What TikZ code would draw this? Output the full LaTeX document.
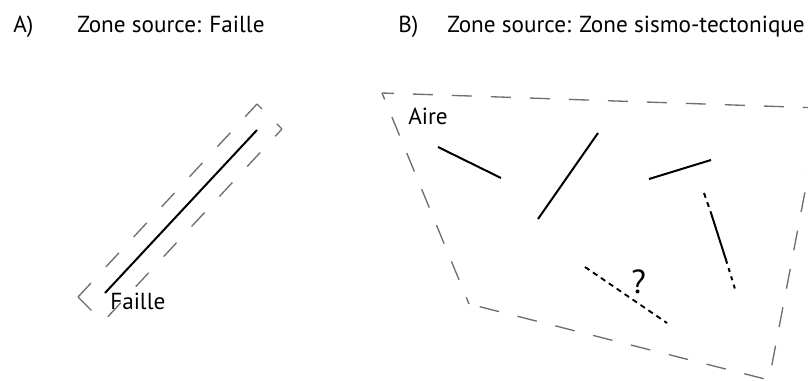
\documentclass[tikz,border=0pt]{standalone}
\usepackage{fontspec}
\setmainfont{PT Sans}
\definecolor{zonegray}{RGB}{110,110,110}
\begin{document}
\begin{tikzpicture}[x=0.75pt,y=-0.75pt,
  fault/.style={line width=1.5pt, black, line cap=butt},
  zone/.style={line width=1pt, color=zonegray},
  zoneA/.style={zone, dash pattern=on 14.25pt off 16.5pt},
  zoneB/.style={zone, dash pattern=on 15pt off 14.25pt},
  lbl/.style={inner sep=0pt, anchor=base west, font=\fontsize{17.4}{20}\selectfont}]
\useasboundingbox (0,0) rectangle (808,381);
\clip (0,0) rectangle (808,381);

% titles
\node[lbl] (ta) at (13,33) {A)};
\node[lbl] (tat) at (77,33) {Zone source: Faille};
\node[lbl] (tb) at (398,33) {B)};
\node[lbl] (tbt) at (447,33) {Zone source: Zone sismo-tectonique};

% Panel A
\coordinate (L) at (78,297);
\coordinate (T) at (257,104);
\coordinate (R) at (282,129);
\coordinate (B) at (103,322);
\draw[zoneA] (L) -- (T);
\draw[zone, dash pattern=on 5.25pt off 15.75pt on 7pt off 10pt] (T) -- (R);
\draw[zoneA, dash phase=6.75pt] (R) -- (B);
\draw[zoneA] (L) -- (B);
\coordinate (fa1) at (105,293);
\coordinate (fa2) at (257,130);
\draw[fault] (fa1) -- (fa2);
\node[lbl] (faille) at (110,310) {Faille};

% Panel B
\coordinate (TL) at (382,93);
\coordinate (TR) at (821,108);
\coordinate (BR) at (769,380);
\coordinate (BL) at (469,304);
\draw[zoneB, dash phase=6pt] (TL) -- (TR);
\draw[zoneB, dash phase=9.75pt] (TL) -- (BL);
\draw[zoneB, dash phase=21pt] (BL) -- (BR);
\draw[zoneB, dash phase=18pt] (BR) -- (TR);
\node[lbl] (aire) at (408,125) {Aire};

\coordinate (f1a) at (438,147); \coordinate (f1b) at (501,178);
\coordinate (f2a) at (598,133); \coordinate (f2b) at (538,219);
\coordinate (f3a) at (649,179); \coordinate (f3b) at (711,160);
\draw[fault] (f1a) -- (f1b);
\draw[fault] (f2a) -- (f2b);
\draw[fault] (f3a) -- (f3b);

\coordinate (f4a) at (704,193); \coordinate (f4b) at (711,213);
\coordinate (f4c) at (727,263); \coordinate (f4d) at (735,289);
\draw[fault, dash pattern=on 3.75pt off 3.5pt] (f4a) -- (f4b);
\draw[fault] (f4b) -- (f4c);
\draw[fault, dash pattern=on 3pt off 3.5pt, dash phase=-4pt] (f4c) -- (f4d);

\coordinate (f5a) at (585,267); \coordinate (f5b) at (667,323);
\draw[fault, line width=1.4pt, dash pattern=on 4pt off 3.2pt] (f5a) -- (f5b);
\node[inner sep=0pt, anchor=base west, font=\fontsize{25}{28}\selectfont] (q) at (631,294) {?};
\end{tikzpicture}
\end{document}
